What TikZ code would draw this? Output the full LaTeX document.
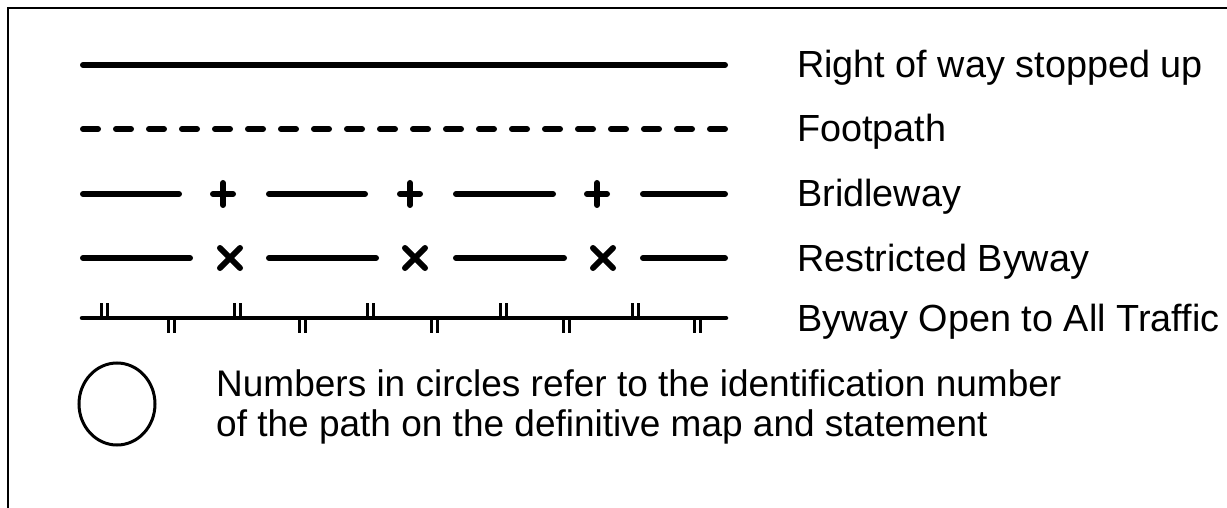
\documentclass[tikz,border=0pt]{standalone}
\usepackage{fontspec}
\setmainfont{Liberation Sans}
\begin{document}
\begin{tikzpicture}[x=1pt,y=-1pt,
  sym/.style={line width=6pt,line cap=round},
  mark sym/.style={line width=6pt,line cap=round},
  tickline/.style={line width=3pt},
  lbl/.style={anchor=base west,inner sep=0pt,font=\fontsize{37.8}{45}\selectfont},
  note/.style={anchor=base west,inner sep=0pt,font=\fontsize{37}{42}\selectfont}]
\useasboundingbox (0,0) rectangle (1227,508);
% frame
\draw[line width=2pt] (8,508) -- (8,8) -- (1227,8);
% Row 1: right of way stopped up
\draw[sym] (83,65) -- (725,65);
\node[lbl] (t1) at (797,78) {Right of way stopped up};
% Row 2: footpath
\foreach \i in {0,...,19}{
  \draw[sym] ({83+33*\i},129) -- ({98+33*\i},129);
}
\node[lbl] (t2) at (797,142) {Footpath};
% Row 3: bridleway
\foreach \a/\b in {80/182,266/368,453/556,640/728}{
  \draw[sym] ({\a+3},194) -- ({\b-3},194);
}
\foreach \c in {223,410,597}{
  \draw[mark sym] ({\c-10},194) -- ({\c+10},194);
  \draw[mark sym] (\c,183) -- (\c,205);
}
\node[lbl] (t3) at (797,207) {Bridleway};
% Row 4: restricted byway
\foreach \a/\b in {80/193,266/379,453/567,640/728}{
  \draw[sym] ({\a+3},258) -- ({\b-3},258);
}
\foreach \c in {230,415,603}{
  \draw[mark sym] ({\c-10},248) -- ({\c+10},268);
  \draw[mark sym] ({\c-10},268) -- ({\c+10},248);
}
\node[lbl] (t4) at (797,271) {Restricted Byway};
% Row 5: byway open to all traffic
\draw[line width=4.5pt,line cap=round] (82,318) -- (726,318);
\foreach \c in {104,237,370,503,635}{
  \draw[tickline] ({\c-3},318) -- ({\c-3},303);
  \draw[tickline] ({\c+3},318) -- ({\c+3},303);
}
\foreach \c in {171,302,434,566,697}{
  \draw[tickline] ({\c-3},318) -- ({\c-3},333);
  \draw[tickline] ({\c+3},318) -- ({\c+3},333);
}
\node[lbl] (t5) at (797,331) {Byway Open to All Traffic};
% circle
\draw[line width=3pt] (117,404) ellipse [x radius=38, y radius=41];
\node[note] (t6) at (216,396) {Numbers in circles refer to the identification number};
\node[note] (t7) at (216,436) {of the path on the definitive map and statement};
\end{tikzpicture}
\end{document}
